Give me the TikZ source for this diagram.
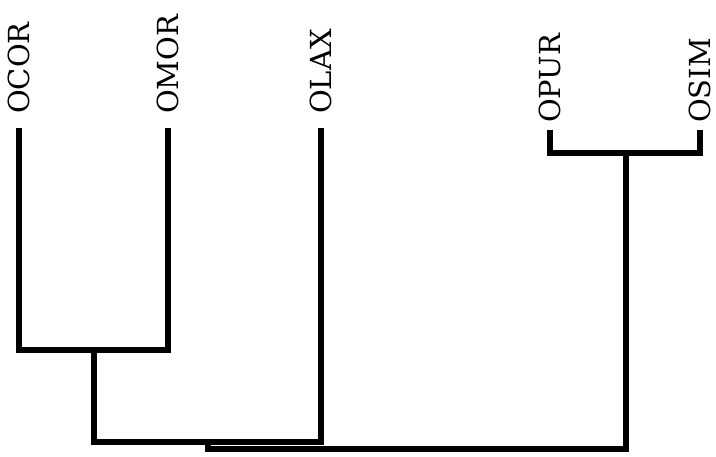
\documentclass[tikz,border=0pt]{standalone}
\usepackage{fontspec}
\setmainfont{DejaVu Serif}
\usepackage{tikz}
\usetikzlibrary{positioning,calc}
\begin{document}
\begin{tikzpicture}[x=1pt,y=-1pt]
\tikzset{leaf/.style={rotate=90,anchor=west,inner xsep=14pt,inner ysep=0pt,font=\fontsize{29}{35}\selectfont},branch/.style={line width=5.5pt,line join=miter,black}}
\useasboundingbox (0,0) rectangle (716,456);
\node[leaf] (ocor) at (19,128) {OCOR};
\node[leaf] (omor) at (168,128) {OMOR};
\node[leaf] (olax) at (321,128) {OLAX};
\node[leaf,inner xsep=7pt] (opur) at (550,130) {OPUR};
\node[leaf,inner xsep=7pt] (osim) at (700,130) {OSIM};
\coordinate (jcm) at (94,350);
\coordinate (jcml) at (208,442);
\coordinate (jps) at (626,153);
\coordinate (jroot) at (417,449);
\draw[branch] (ocor.west) |- (jcm) -| (omor.west);
\draw[branch] (jcm) |- (jcml) -| (olax.west);
\draw[branch] (opur.west) |- (jps) -| (osim.west);
\draw[branch] (jcml) |- (jroot) -| (jps);
\end{tikzpicture}
\end{document}
